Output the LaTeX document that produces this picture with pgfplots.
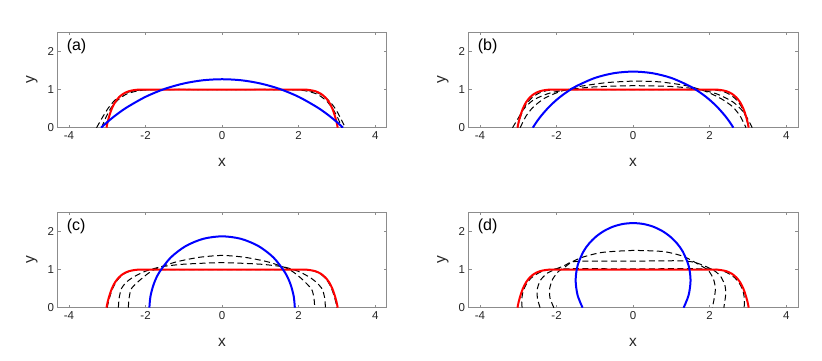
\documentclass[border=0pt]{standalone}
\usepackage{fontspec}
\setmainfont{Liberation Sans}
\usepackage{pgfplots}
\usepackage{pgfplotstable}
\pgfplotsset{compat=1.18}

% red reference shape, same in all panels
\pgfplotstableread{
x y
-3.02 0
-2.99 0.15
-2.94 0.33
-2.88 0.5
-2.80 0.66
-2.70 0.79
-2.58 0.89
-2.44 0.955
-2.28 0.988
-2.10 1.0
-1.5 1.0
0 1
1.5 1.0
2.10 1.0
2.28 0.988
2.44 0.955
2.58 0.89
2.70 0.79
2.80 0.66
2.88 0.5
2.94 0.33
2.99 0.15
3.02 0
}\redtab

\newcommand{\lbl}[1]{\fontsize{15.5}{17}\selectfont #1}
\pgfplotsset{
  panel/.style={
    width=329.2pt, height=95.4pt, scale only axis,
    xmin=-4.3, xmax=4.3, ymin=0, ymax=2.5,
    xtick={-4,-2,0,2,4}, ytick={0,1,2},
    tick pos=both, tick align=inside, major tick length=3pt,
    axis line style={black!45}, tick style={black!45, line width=0.5pt},
    ticklabel style={font=\fontsize{11.5}{13}\selectfont, text=black!85},
    /pgf/number format/assume math mode=true,
    xlabel={\lbl{x}}, ylabel={\lbl{y}},
    every axis x label/.style={at={(axis description cs:0.5,0)}, yshift=-35pt, anchor=center, text=black!85},
    every axis y label/.style={at={(axis description cs:0,0.5)}, xshift=-25.5pt, rotate=90, anchor=center, text=black!85},
    clip=true,
  },
  redc/.style={red, line width=2pt, smooth, tension=0.5},
  bluec/.style={blue, line width=2pt, smooth},
  dash/.style={black, line width=1pt, dash pattern=on 6pt off 3.5pt, smooth, tension=0.4},
}
\newcommand{\plab}[1]{\node[anchor=west, font=\fontsize{16}{18}\selectfont, text=black] at (axis cs:-4.15,2.12) {#1};}

\begin{document}
\begin{tikzpicture}
\path[use as bounding box] (0,0) rectangle (822pt,361pt);

% (a)
\begin{axis}[panel, at={(57.5pt,233.3pt)}, anchor=south west]
\addplot[dash] coordinates {(-3.28,0) (-3.12,0.28) (-2.97,0.52) (-2.8,0.72) (-2.55,0.9) (-2.2,0.98) (-1.6,1.0) (0,1.0) (1.6,1.0) (2.2,0.98) (2.55,0.89) (2.8,0.7) (2.97,0.48) (3.1,0.24) (3.22,0)};
\addplot[dash] coordinates {(-3.15,0) (-3.03,0.28) (-2.9,0.52) (-2.73,0.72) (-2.48,0.89) (-2.1,0.98) (-1.4,1.0) (0,1.0) (1.4,1.0) (2.1,0.98) (2.48,0.88) (2.73,0.7) (2.9,0.48) (3.03,0.24) (3.13,0)};
\addplot[redc] table {\redtab};
\addplot[bluec] coordinates {(-3.16,0) (-3.0,0.146) (-2.8,0.311) (-2.5,0.525) (-2,0.809) (-1.5,1.017) (-1,1.159) (-0.5,1.243) (0,1.270) (0.5,1.243) (1,1.159) (1.5,1.017) (2,0.809) (2.5,0.525) (2.8,0.311) (3.0,0.146) (3.16,0)};
\plab{(a)}
\end{axis}

% (b)
\begin{axis}[panel, at={(468.5pt,233.3pt)}, anchor=south west]
\addplot[dash] coordinates {(-3.02,0) (-2.97,0.2) (-2.9,0.4) (-2.8,0.6) (-2.65,0.78) (-2.45,0.91) (-2.2,0.98) (-1.6,1.0) (0,1.0) (1.6,1.0) (2.2,0.98) (2.45,0.91) (2.65,0.78) (2.8,0.6) (2.9,0.4) (2.97,0.2) (3.02,0)};
\addplot[dash] coordinates {(-3.15,0) (-3.0,0.25) (-2.85,0.5) (-2.6,0.73) (-2.2,0.9) (-1.7,1.0) (-1,1.07) (0,1.1) (1,1.08) (1.7,1.01) (2.2,0.88) (2.6,0.68) (2.85,0.45) (3.0,0.22) (3.11,0)};
\addplot[dash] coordinates {(-2.95,0) (-2.8,0.3) (-2.6,0.55) (-2.3,0.78) (-1.9,0.95) (-1.4,1.08) (-0.7,1.18) (0,1.22) (0.7,1.2) (1.4,1.1) (1.9,0.95) (2.3,0.76) (2.6,0.55) (2.8,0.3) (2.95,0)};
\addplot[redc] table {\redtab};
\addplot[bluec] coordinates {(-2.62,0) (-2.52,0.153) (-2.4,0.314) (-2.2,0.541) (-2.0,0.729) (-1.8,0.887) (-1.5,1.079) (-1,1.303) (-0.5,1.429) (0,1.47) (0.5,1.429) (1,1.303) (1.5,1.079) (1.8,0.887) (2.0,0.729) (2.2,0.541) (2.4,0.314) (2.52,0.153) (2.62,0)};
\plab{(b)}
\end{axis}

% (c)
\begin{axis}[panel, at={(57.5pt,53.3pt)}, anchor=south west]
\addplot[dash] coordinates {(-3.0,0) (-2.97,0.15) (-2.92,0.33) (-2.86,0.5) (-2.78,0.66) (-2.68,0.79) (-2.56,0.89) (-2.42,0.955) (-2.26,0.988) (-2.1,1.0) (0,1.0) (2.1,1.0) (2.26,0.988) (2.42,0.955) (2.56,0.89) (2.68,0.79) (2.78,0.66) (2.86,0.5) (2.92,0.33) (2.97,0.15) (3.0,0)};
\addplot[dash] coordinates {(-2.71,0) (-2.69,0.25) (-2.63,0.5) (-2.5,0.67) (-2.32,0.8) (-2.02,0.95) (-1.6,1.07) (-1,1.14) (0,1.18) (1,1.14) (1.6,1.07) (2.0,0.95) (2.3,0.79) (2.48,0.65) (2.62,0.48) (2.68,0.25) (2.70,0)};
\addplot[dash] coordinates {(-2.45,0) (-2.43,0.25) (-2.37,0.5) (-2.15,0.72) (-1.93,0.9) (-1.71,1.03) (-1.2,1.2) (-0.6,1.32) (0,1.37) (0.6,1.32) (1.2,1.2) (1.7,1.03) (1.92,0.89) (2.13,0.71) (2.34,0.48) (2.40,0.25) (2.42,0)};
\addplot[redc] table {\redtab};
\addplot[bluec] coordinates {(-1.9,0) (-1.871,0.300) (-1.785,0.620) (-1.645,0.92) (-1.3435,1.3135) (-0.95,1.615) (-0.492,1.805) (0,1.87) (0.492,1.805) (0.95,1.615) (1.3435,1.3135) (1.645,0.92) (1.785,0.620) (1.871,0.300) (1.9,0)};
\plab{(c)}
\end{axis}

% (d)
\begin{axis}[panel, at={(468.5pt,53.3pt)}, anchor=south west]
\addplot[dash] coordinates {(-2.9,0) (-2.91,0.2) (-2.88,0.4) (-2.8,0.6) (-2.66,0.78) (-2.45,0.92) (-2.2,1.0) (-1.8,1.02) (0,1.02) (1.8,1.02) (2.2,1.0) (2.45,0.92) (2.66,0.78) (2.8,0.6) (2.88,0.4) (2.91,0.2) (2.9,0)};
\addplot[dash] coordinates {(-2.43,0) (-2.5,0.25) (-2.5,0.5) (-2.42,0.72) (-2.25,0.9) (-2.0,1.02) (-1.8,1.1) (-1.6,1.2) (-1.2,1.22) (0,1.22) (1.2,1.23) (1.6,1.19) (1.9,1.08) (2.15,0.95) (2.3,0.8) (2.4,0.58) (2.42,0.35) (2.37,0)};
\addplot[dash] coordinates {(-2.07,0) (-2.17,0.25) (-2.18,0.5) (-2.1,0.75) (-1.95,0.95) (-1.8,1.05) (-1.6,1.2) (-1.3,1.33) (-0.8,1.45) (0,1.5) (0.8,1.47) (1.3,1.35) (1.65,1.17) (1.96,0.98) (2.1,0.75) (2.15,0.5) (2.12,0.25) (2.07,0)};
\addplot[redc] table {\redtab};
\addplot[bluec] coordinates {(-1.320,0) (-1.450,0.327) (-1.501,0.716) (-1.450,1.105) (-1.300,1.467) (-1.150,1.681) (-0.965,1.866) (-0.751,2.016) (-0.514,2.127) (-0.261,2.195) (0,2.217) (0.261,2.195) (0.514,2.127) (0.751,2.016) (0.965,1.866) (1.150,1.681) (1.300,1.467) (1.450,1.105) (1.501,0.716) (1.450,0.327) (1.320,0)};
\plab{(d)}
\end{axis}
\end{tikzpicture}
\end{document}
